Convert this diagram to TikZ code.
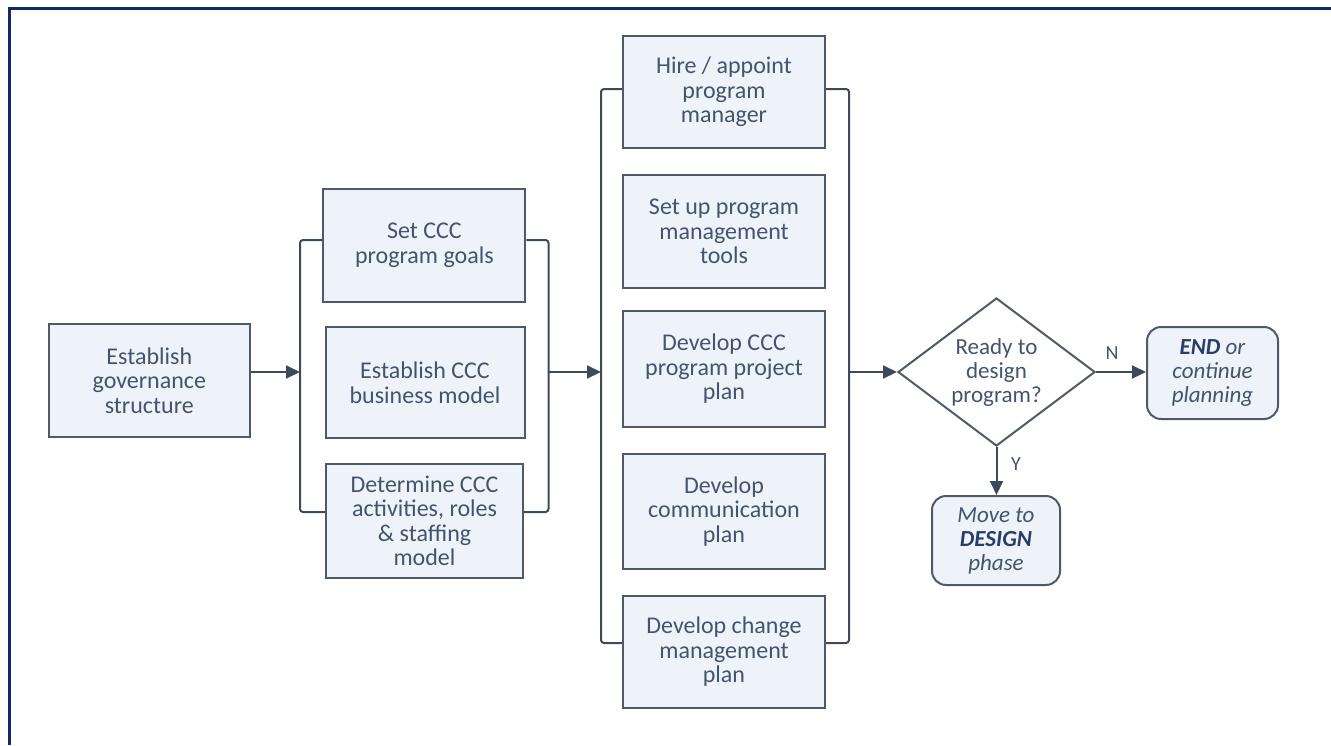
\documentclass[tikz,border=0pt]{standalone}
\usepackage{fontspec}
\setmainfont{Carlito}
\usetikzlibrary{arrows.meta,shapes.geometric}
\definecolor{boxfill}{HTML}{EEF3FA}
\definecolor{boxline}{HTML}{505A67}
\definecolor{txt}{HTML}{44546A}
\definecolor{txtbold}{HTML}{2B3D66}
\definecolor{linec}{HTML}{3E4A5C}
\definecolor{frame}{HTML}{14296B}
\begin{document}
\begin{tikzpicture}[x=1pt,y=-1pt,
  stepbox/.style={draw=boxline,line width=2pt,fill=boxfill,text=txt,align=center,
    minimum width=201,minimum height=114,inner sep=2pt,
    font=\fontsize{24}{24.5}\selectfont},
  endbox/.style={draw=boxline,line width=2pt,fill=boxfill,text=txt,align=center,
    rounded corners=14pt,inner sep=2pt,font=\fontsize{23}{24}\selectfont\itshape},
  decbox/.style={draw=boxline,line width=2pt,fill=white,text=txt,align=center,
    shape=diamond,aspect=1.33,inner sep=0pt,minimum width=197,minimum height=148,
    font=\fontsize{23}{24}\selectfont},
  conn/.style={draw=linec,line width=2pt,rounded corners=3pt},
  arr/.style={draw=linec,line width=2pt,-{Triangle[length=14pt,width=13pt]}},
  lab/.style={text=txt,font=\fontsize{20}{22}\selectfont}]
\useasboundingbox (0,0) rectangle (1331,745);
% frame (top and left edges)
\draw[frame,line width=3pt] (9,745) -- (9,8) -- (1331,8);
% left box
\node[stepbox,minimum width=201,minimum height=113] (gov) at (149.3,380.5) {Establish\\governance\\structure};
% first group
\node[stepbox,minimum width=202,minimum height=113] (g1) at (424.4,245.5) {Set CCC\\program goals};
\node[stepbox,minimum width=199,minimum height=111] (g2) at (425,382.5) {Establish CCC\\business model};
\node[stepbox,minimum width=197,minimum height=114] (g3) at (424.5,521) {Determine CCC\\activities, roles\\\& staffing\\model};
% second group
\node[stepbox,minimum width=202,minimum height=112] (m1) at (724,92) {Hire / appoint\\program\\manager};
\node[stepbox,minimum width=202,minimum height=113] (m2) at (724,231.5) {Set up program\\management\\tools};
\node[stepbox,minimum width=202,minimum height=116] (m3) at (724,369) {Develop CCC\\program project\\plan};
\node[stepbox,minimum width=202,minimum height=115] (m4) at (724,511.5) {Develop\\communication\\plan};
\node[stepbox,minimum width=202,minimum height=112] (m5) at (724,652) {Develop change\\management\\plan};
% decision
\node[decbox] (dec) at (996.5,372) {Ready to\\design\\program?};
\node[endbox,minimum width=131,minimum height=92] (endb) at (1212.5,373) {{\bfseries\color{txtbold}END} or\\continue\\planning};
\node[endbox,minimum width=128,minimum height=89] (move) at (996,540.5) {Move to\\{\bfseries\color{txtbold}DESIGN}\\phase};
\node[lab] (nlab) at (1112,353) {N};
\node[lab] (ylab) at (1016,464) {Y};
% bracket coordinates
\coordinate (lb) at (300,372);
\coordinate (rb) at (548.5,372);
\coordinate (lb2) at (601,372);
\coordinate (rb2) at (849,372);
% connectors
\draw[arr] (gov.east |- lb) -- (lb);
\draw[conn] ([yshift=5.5pt]g1.west) -| (lb) |- ([yshift=9pt]g3.west);
\draw[conn] ([yshift=5.5pt]g1.east) -| (rb) |- ([yshift=9pt]g3.east);
\draw[arr] (rb) -- (lb2);
\draw[conn] ([yshift=3pt]m1.west) -| (lb2) |- ([yshift=9pt]m5.west);
\draw[conn] ([yshift=3pt]m1.east) -| (rb2) |- ([yshift=9pt]m5.east);
\draw[arr] (rb2) -- (dec.west);
\draw[arr] (dec.east) -- (dec.east -| endb.west);
\draw[arr] (dec.south) -- (dec.south |- move.north);
\end{tikzpicture}
\end{document}
